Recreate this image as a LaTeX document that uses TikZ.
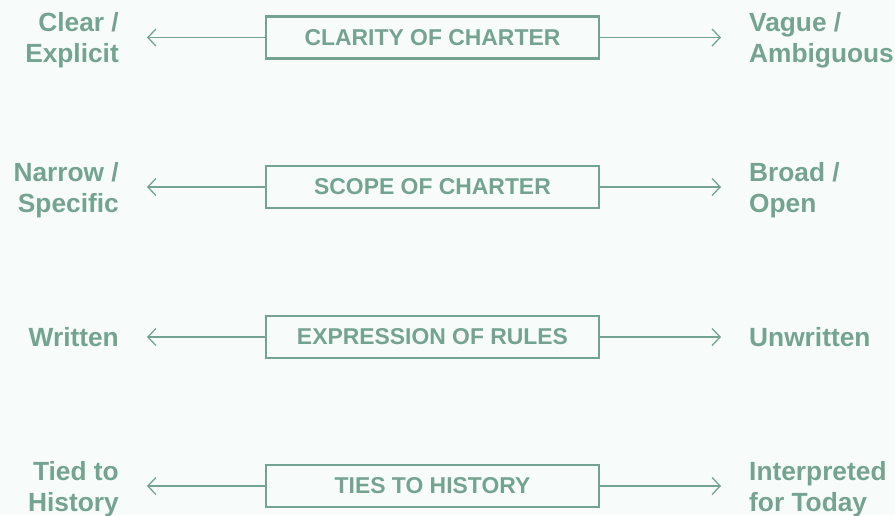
\documentclass[tikz,border=0pt]{standalone}
\usepackage{fontspec}
\setmainfont{Liberation Sans}
\usetikzlibrary{arrows.meta}
\definecolor{sage}{HTML}{74A491}
\definecolor{bgc}{HTML}{F7FBFA}
\tikzset{
  dimbox/.style={draw=sage, line width=2.7pt, minimum width=333pt, minimum height=42pt, inner sep=0pt,
    text=sage, font=\fontsize{22.9}{26}\selectfont\bfseries},
  endlabel/.style={text=sage, inner sep=0pt, font=\fontsize{26.3}{31}\selectfont\bfseries},
  leftlab/.style={endlabel, anchor=east, align=right},
  rightlab/.style={endlabel, anchor=west, align=left},
  conn/.style={draw=sage, line width=1.3pt, -{Straight Barb[length=8pt,width=17pt,line width=1.3pt]}}
}
\begin{document}
\begin{tikzpicture}[x=1pt,y=1pt]
\fill[bgc] (0,0) rectangle (895,-515);
\useasboundingbox (0,0) rectangle (895,-515);
% row 1
\node[dimbox] (b1) at (432.5,-37.5) {CLARITY OF CHARTER};
\node[leftlab] (l1) at (119,-40.5) {Clear /\\Explicit};
\node[rightlab] (r1) at (749,-40.5) {Vague /\\Ambiguous};
\coordinate (la1) at (147,-37.5);
\coordinate (ra1) at (721,-37.5);
\draw[conn] (b1.west) -- (la1);
\draw[conn] (b1.east) -- (ra1);
% row 2
\node[dimbox] (b2) at (432.5,-187) {SCOPE OF CHARTER};
\node[leftlab] (l2) at (119,-190) {Narrow /\\Specific};
\node[rightlab] (r2) at (749,-190) {Broad /\\Open};
\coordinate (la2) at (147,-187);
\coordinate (ra2) at (721,-187);
\draw[conn] (b2.west) -- (la2);
\draw[conn] (b2.east) -- (ra2);
% row 3
\node[dimbox] (b3) at (432.5,-337) {EXPRESSION OF RULES};
\node[leftlab] (l3) at (119,-337) {Written};
\node[rightlab] (r3) at (749,-337) {Unwritten};
\coordinate (la3) at (147,-337);
\coordinate (ra3) at (721,-337);
\draw[conn] (b3.west) -- (la3);
\draw[conn] (b3.east) -- (ra3);
% row 4
\node[dimbox] (b4) at (432.5,-486) {TIES TO HISTORY};
\node[leftlab] (l4) at (119,-489) {Tied to\\History};
\node[rightlab] (r4) at (749,-489) {Interpreted\\for Today};
\coordinate (la4) at (147,-486);
\coordinate (ra4) at (721,-486);
\draw[conn] (b4.west) -- (la4);
\draw[conn] (b4.east) -- (ra4);
\end{tikzpicture}
\end{document}
